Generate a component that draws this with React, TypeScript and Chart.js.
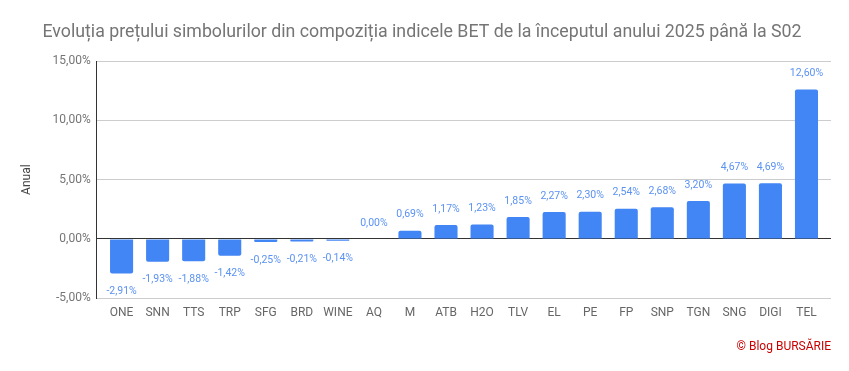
import React, { useEffect, useRef } from "react";
import { Chart, registerables } from "chart.js";

Chart.register(...registerables);

const categories = ["ONE", "SNN", "TTS", "TRP", "SFG", "BRD", "WINE", "AQ", "M", "ATB", "H2O", "TLV", "EL", "PE", "FP", "SNP", "TGN", "SNG", "DIGI", "TEL"];
const values = [-2.91, -1.93, -1.88, -1.42, -0.25, -0.21, -0.14, 0.0, 0.69, 1.17, 1.23, 1.85, 2.27, 2.3, 2.54, 2.68, 3.2, 4.67, 4.69, 12.6];
const yTicks = [-5, 0, 5, 10, 15];
const titleText = "Evoluția prețului simbolurilor din compoziția indicele BET de la începutul anului 2025 până la S02";
const footerText = "© Blog BURSĂRIE";
const yAxisTitle = "Anual";

const fmt = (v: number) => v.toFixed(2).replace(".", ",") + "%";

const labelPlugin = {
  id: "barLabels",
  afterDatasetsDraw(chart: any) {
    const ctx = chart.ctx;
    const meta = chart.getDatasetMeta(0);
    ctx.save();
    ctx.font = "10.5px Roboto";
    ctx.fillStyle = "#5b92f2";
    ctx.textAlign = "center";
    ctx.textBaseline = "middle";
    meta.data.forEach((el: any, i: number) => {
      const v = values[i];
      const y = v < 0 ? el.y + 18 : el.y - 16;
      ctx.fillText(fmt(v), el.x, y);
    });
    ctx.restore();
  },
};

export default function App() {
  const ref = useRef<HTMLCanvasElement>(null);
  useEffect(() => {
    document.body.style.margin = "0";
    Chart.defaults.font.family = "Roboto";
    const chart = new Chart(ref.current!, {
      type: "bar",
      data: {
        datasets: [
          {
            data: values.map((v, i) => ({ x: i, y: v })),
            backgroundColor: "#4285f4",
            borderRadius: 2,
            borderSkipped: "start",
            categoryPercentage: 0.64,
            barPercentage: 1,
          },
        ],
      },
      options: {
        animation: false,
        responsive: true,
        maintainAspectRatio: false,
        layout: { padding: { left: 13, right: 18, top: 0, bottom: 0 } },
        plugins: {
          legend: { display: false },
          tooltip: { enabled: false },
          title: {
            display: true,
            text: titleText,
            color: "#757575",
            font: { size: 17.75, weight: "normal" },
            padding: { top: 21.9, bottom: 17.8 },
          },
          subtitle: {
            display: true,
            text: footerText,
            position: "bottom",
            align: "end",
            color: "#cc0000",
            font: { size: 12, weight: "normal" },
            padding: { top: 19.3, bottom: 17 },
          },
        },
        scales: {
          x: {
            type: "linear",
            offset: false,
            min: -0.69,
            max: 19.68,
            grid: { display: false, drawTicks: false },
            border: { display: false },
            afterBuildTicks: (s: any) => {
              s.ticks = categories.map((_, i) => ({ value: i }));
            },
            ticks: {
              autoSkip: false,
              maxRotation: 0,
              padding: 7.5,
              color: "#666",
              font: { size: 12 },
              callback: (v: any) => (categories[v] !== undefined ? categories[v] : ""),
            },
            afterFit: (s: any) => {
              s.height = 22;
            },
          },
          y: {
            min: yTicks[0],
            max: yTicks[yTicks.length - 1],
            afterBuildTicks: (s: any) => {
              s.ticks = yTicks.map((v) => ({ value: v }));
            },
            grid: {
              color: (c: any) => (c.tick && c.tick.value === 0 ? "#333" : "#cccccc"),
              drawTicks: false,
            },
            border: { display: true, color: "#333" },
            ticks: {
              padding: 6,
              color: "#757575",
              font: { size: 12 },
              callback: (v: any) => fmt(Number(v)),
            },
            title: {
              display: true,
              text: yAxisTitle,
              color: "#444",
              font: { size: 12 },
              padding: { top: 7, bottom: 0 },
            },
            afterFit: (s: any) => {
              s.width = 83.7;
            },
          },
        },
      },
      plugins: [labelPlugin],
    });
    return () => chart.destroy();
  }, []);
  return (
    <div style={{ width: 849, height: 371, position: "relative" }}>
      <canvas ref={ref} />
    </div>
  );
}
